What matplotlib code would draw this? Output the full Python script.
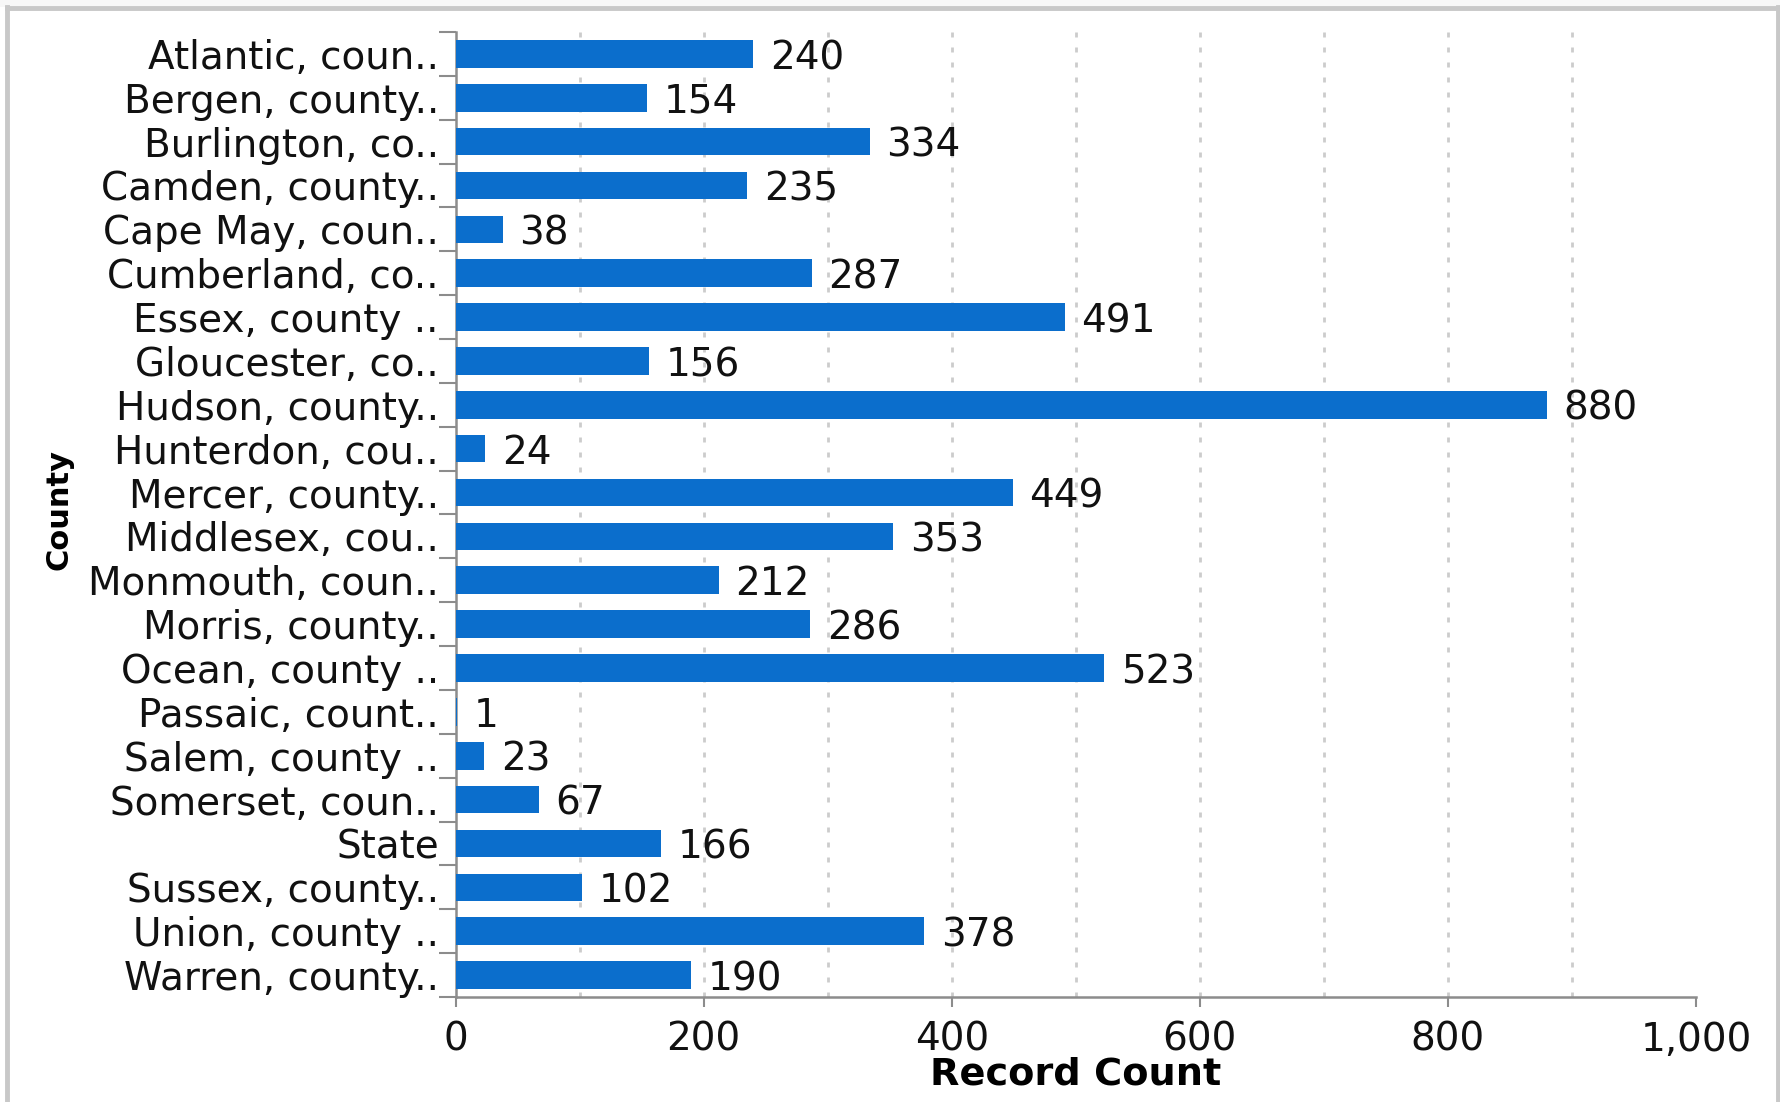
import matplotlib
matplotlib.use("Agg")
import matplotlib.pyplot as plt
from matplotlib.lines import Line2D
from matplotlib.patches import Rectangle
from matplotlib.ticker import FuncFormatter

counties = [
    "Atlantic, coun..", "Bergen, county..", "Burlington, co..", "Camden, county..",
    "Cape May, coun..", "Cumberland, co..", "Essex, county ..", "Gloucester, co..",
    "Hudson, county..", "Hunterdon, cou..", "Mercer, county..", "Middlesex, cou..",
    "Monmouth, coun..", "Morris, county..", "Ocean, county ..", "Passaic, count..",
    "Salem, county ..", "Somerset, coun..", "State", "Sussex, county..",
    "Union, county ..", "Warren, county..",
]
record_counts = [240, 154, 334, 235, 38, 287, 491, 156, 880, 24, 449, 353,
                 212, 286, 523, 1, 23, 67, 166, 102, 378, 190]
x_ticks = [0, 200, 400, 600, 800, 1000]
grid_lines = [100, 200, 300, 400, 500, 600, 700, 800, 900]

bar_color = "#0b6ecc"
axis_color = "#8c8c8c"
text_color = "#111111"
font_size = 28

plt.rcParams["font.family"] = ["DejaVu Sans"]

fig = plt.figure(figsize=(17.81, 11.02), dpi=100)
ax = fig.add_axes([0.2558, 0.0953, 0.6965, 0.8757])

# page frame
fig.patches.append(Rectangle((0, 1 - 7 / 1102), 1, 7 / 1102, transform=fig.transFigure,
                             facecolor="#f7f7f7", edgecolor="none", zorder=0))
for xs, ys in [([7 / 1781, 1], [1 - 7.5 / 1102] * 2),
               ([7.5 / 1781] * 2, [0, 1 - 7 / 1102]),
               ([1 - 2.5 / 1781] * 2, [0, 1 - 7 / 1102])]:
    fig.lines.append(Line2D(xs, ys, transform=fig.transFigure, color="#c8c8c8", lw=3.5))

ypos = list(range(len(counties)))
ax.barh(ypos, record_counts, height=0.63, color=bar_color, zorder=3)

for y, v in zip(ypos, record_counts):
    ax.annotate(str(v), (v, y), xytext=(12, -3), textcoords="offset points",
                ha="left", va="center", fontsize=font_size, color=text_color)

for g in grid_lines:
    ax.axvline(g, color="#cccccc", lw=2.0, linestyle=(0, (1.8, 3.6)), zorder=1)

ax.set_xlim(0, 1000)
ax.set_ylim(len(counties) - 0.5, -0.5)

ax.set_xticks(x_ticks)
ax.xaxis.set_major_formatter(FuncFormatter(lambda v, p: f"{int(v):,}"))
ax.tick_params(axis="x", length=7, width=1.5, color=axis_color, pad=10,
               labelsize=font_size, labelcolor=text_color)

ax.set_yticks(ypos)
ax.set_yticklabels(counties)
ax.set_yticks([i - 0.5 for i in range(len(counties) + 1)], minor=True)
ax.tick_params(axis="y", which="major", length=0, pad=12,
               labelsize=font_size, labelcolor=text_color)
ax.tick_params(axis="y", which="minor", length=12, width=1.5, color=axis_color)

for side in ["top", "right"]:
    ax.spines[side].set_visible(False)
for side in ["left", "bottom"]:
    ax.spines[side].set_color(axis_color)
    ax.spines[side].set_linewidth(1.8)

ax.set_xlabel("Record Count", fontsize=27.5, fontweight="bold", va="center")
ax.xaxis.set_label_coords(0.5, -0.080)
ax.set_ylabel("County", fontsize=22, fontweight="bold", va="center")
ax.yaxis.set_label_coords(-0.32, 0.505)

fig.savefig("out.png", dpi=100)
